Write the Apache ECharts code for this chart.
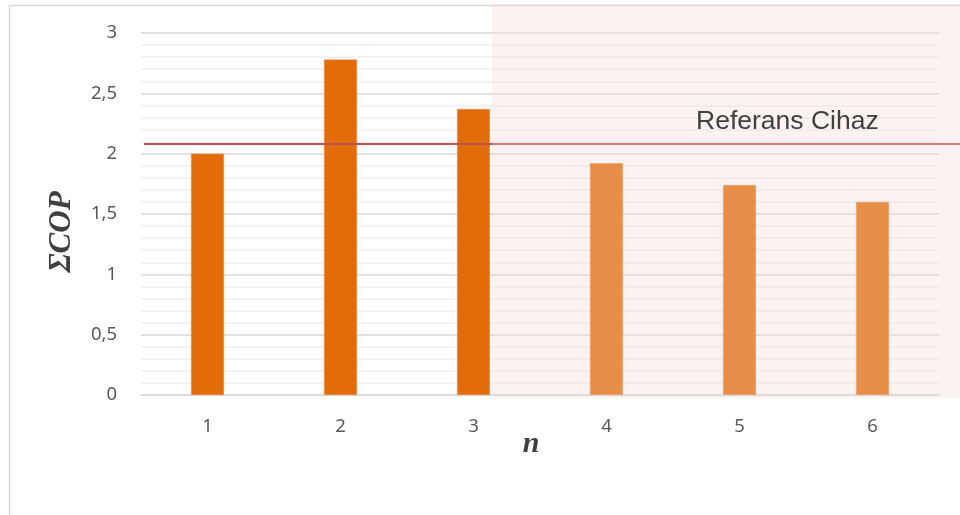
<!DOCTYPE html>
<html>
<head>
<meta charset="utf-8">
<script src="https://cdn.jsdelivr.net/npm/echarts@6/dist/echarts.min.js"></script>
<style>
  html, body { margin: 0; padding: 0; background: #ffffff; }
  #chart { width: 960px; height: 515px; }
</style>
</head>
<body>
<div id="chart"></div>
<script>
// Number of devices n and their total COP
const categories = ['1', '2', '3', '4', '5', '6'];
const copValues = [2.0, 2.78, 2.37, 1.92, 1.74, 1.6];
// Reference device COP level
const referenceCop = 2.08;
const referenceLabel = 'Referans Cihaz';
const yTicks = [0, 0.5, 1, 1.5, 2, 2.5, 3];

const chart = echarts.init(document.getElementById('chart'));

const option = {
  backgroundColor: '#ffffff',
  animation: false,
  grid: { left: 141, right: 21, top: 33, bottom: 120, containLabel: false },
  xAxis: {
    type: 'category',
    data: categories,
    axisLine: { show: true, lineStyle: { color: '#d9d9d9', width: 1.5 } },
    axisTick: { show: false },
    axisLabel: { color: '#595959', fontSize: 18.5, fontFamily: 'Noto Sans', margin: 22 },
    name: 'n',
    nameLocation: 'middle',
    nameGap: 34,
    nameMoveOverlap: false,
    nameTextStyle: {
      fontFamily: 'Liberation Serif', fontStyle: 'italic', fontWeight: 'bold',
      fontSize: 30, color: '#404040', padding: [0, 18, 0, 0]
    }
  },
  yAxis: {
    type: 'value',
    min: yTicks[0],
    max: yTicks[yTicks.length - 1],
    interval: 0.5,
    axisLine: { show: false },
    axisTick: { show: false },
    axisLabel: {
      color: '#595959', fontSize: 18.5, fontFamily: 'Noto Sans', margin: 24,
      formatter: v => String(v).replace('.', ',')
    },
    splitLine: { show: true, lineStyle: { color: '#d9d9d9', width: 1.5 } },
    minorTick: { show: false, splitNumber: 5 },
    minorSplitLine: { show: true, lineStyle: { color: '#f0f0f0', width: 1.5 } },
    name: 'ΣCOP',
    nameLocation: 'middle',
    nameRotate: 90,
    nameGap: 64,
    nameMoveOverlap: false,
    nameTextStyle: {
      fontFamily: 'Liberation Serif', fontStyle: 'italic', fontWeight: 'bold',
      fontSize: 31, color: '#404040', padding: [0, 36, 0, 0]
    }
  },
  series: [{
    type: 'bar',
    data: copValues,
    barWidth: 33,
    itemStyle: { color: '#e36c0a', borderColor: '#ee8a45', borderWidth: 0.6 },
    z: 2
  }]
};

chart.setOption(option);

// Frame, reference line, shaded right-hand panel and the line's label
function drawOverlay() {
  const yRef = chart.convertToPixel({ yAxisIndex: 0 }, referenceCop);
  chart.setOption({
    graphic: [
      {
        type: 'rect', left: 7, top: 3, z: 0, silent: true,
        shape: { x: 0, y: 0, width: 960, height: 520 },
        style: { fill: 'none', stroke: '#d9d9d9', lineWidth: 1.5 }
      },
      {
        type: 'line', z: 50, silent: true,
        shape: { x1: 144, y1: yRef, x2: 960, y2: yRef },
        style: { stroke: '#c0504d', lineWidth: 2 }
      },
      {
        type: 'rect', z: 60, silent: true,
        shape: { x: 492, y: 4, width: 468, height: 394 },
        style: { fill: 'rgba(239,216,210,0.31)' }
      },
      {
        type: 'text', z: 70, silent: true,
        x: 696, y: yRef - 9,
        style: {
          text: referenceLabel, fill: '#404040', fontSize: 26.5,
          fontFamily: 'Liberation Sans', textVerticalAlign: 'bottom'
        }
      }
    ]
  });
}
drawOverlay();
</script>
</body>
</html>
